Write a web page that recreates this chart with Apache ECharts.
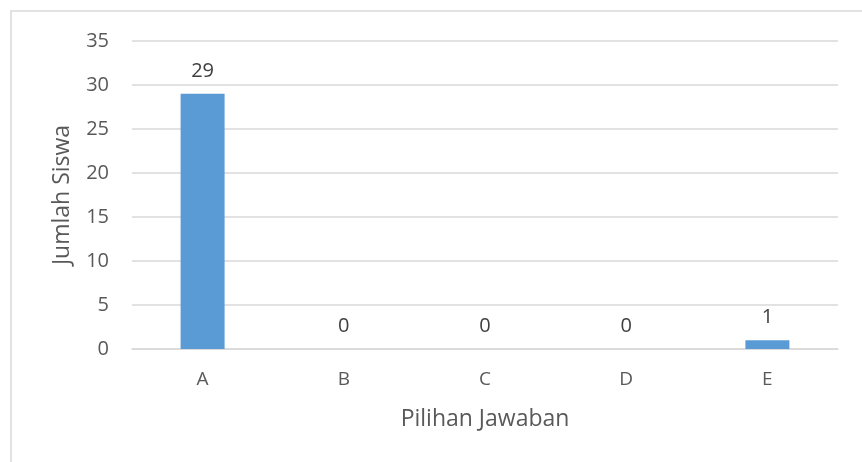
<!DOCTYPE html>
<html><head><meta charset="utf-8">
<script src="https://cdn.jsdelivr.net/npm/echarts@6/dist/echarts.min.js"></script>
<style>html,body{margin:0;padding:0;background:#fff}#c{width:862px;height:462px}</style>
</head><body><div id="c"></div>
<script>
const categories = ['A','B','C','D','E'];
const values = [29, 0, 0, 0, 1];
const xTitle = 'Pilihan Jawaban';
const yTitle = 'Jumlah Siswa';
const font = 'Open Sans, Liberation Sans, sans-serif';
const chart = echarts.init(document.getElementById('c'), null, {renderer:'canvas'});
chart.setOption({
  animation:false,
  backgroundColor:'#fff',
  graphic:[{type:'rect',shape:{x:11,y:11,width:900,height:500},style:{fill:'none',stroke:'#d9d9d9',lineWidth:1.5},silent:true}],
  grid:{left:132,right:24,top:41,bottom:113},
  xAxis:{type:'category',data:categories,
    axisLine:{show:true,lineStyle:{color:'#d9d9d9',width:1.5}},
    axisTick:{show:false},
    axisLabel:{color:'#595959',fontSize:19,fontFamily:font,margin:21},
    name:xTitle,nameLocation:'middle',nameGap:59,
    nameTextStyle:{color:'#595959',fontSize:23,fontFamily:font}},
  yAxis:{type:'value',min:0,max:35,interval:5,
    axisLine:{show:false},axisTick:{show:false},
    splitLine:{lineStyle:{color:'#d9d9d9',width:1.5}},
    axisLabel:{color:'#595959',fontSize:20,fontFamily:font,margin:23},
    name:yTitle,nameLocation:'middle',nameGap:58,nameRotate:90,
    nameTextStyle:{color:'#595959',fontSize:23,fontFamily:font}},
  series:[{type:'bar',data:values,barWidth:44,
    itemStyle:{color:'#5b9bd5'},
    label:{show:true,position:'top',distance:13,color:'#404040',fontSize:20,fontFamily:font}}]
});
</script></body></html>
